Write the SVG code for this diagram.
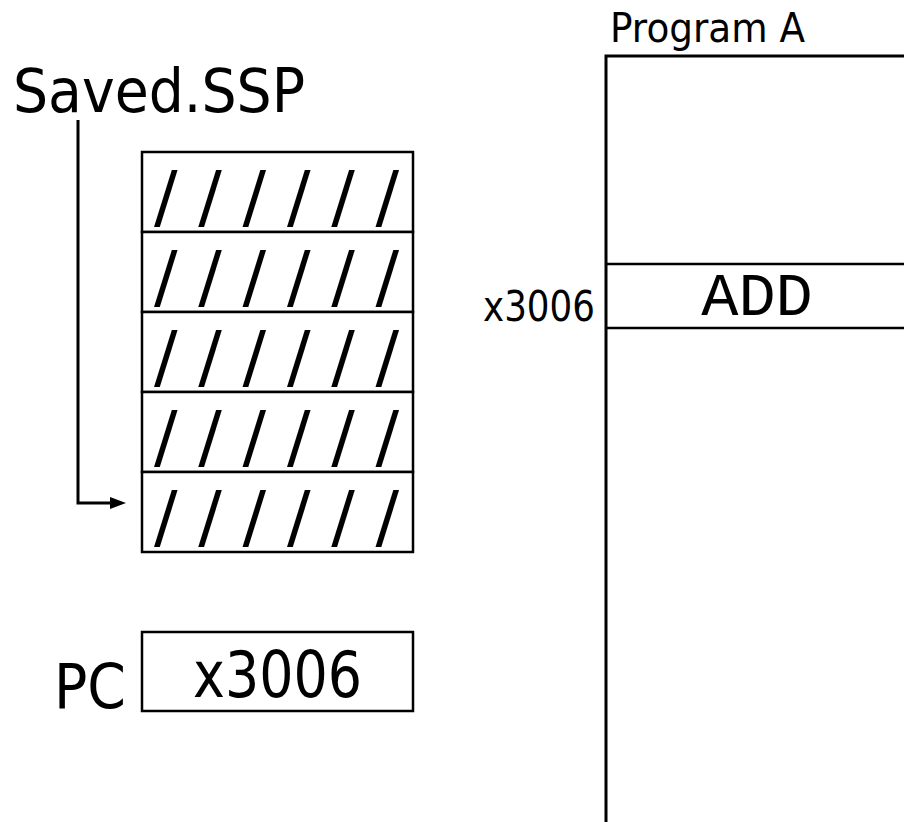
<svg xmlns="http://www.w3.org/2000/svg" width="904" height="822" viewBox="0 0 904 822">
<defs>
<style>
.box{fill:#fff;stroke:#000;stroke-width:2.5}
.sans{font-family:"DejaVu Sans","Liberation Sans",sans-serif;fill:#000}
.mono{font-family:"Liberation Mono","DejaVu Sans Mono",monospace;fill:#000}
.sl{font-family:"DejaVu Sans","Liberation Sans",sans-serif;font-size:70px;fill:#000}
.conn{fill:none;stroke:#000;stroke-width:3}
</style>
<marker id="arr" viewBox="0 0 16 12" markerWidth="16" markerHeight="12" refX="0" refY="6" orient="auto" markerUnits="userSpaceOnUse">
<path d="M0,0 L16,6 L0,12 z" fill="#000"/>
</marker>
</defs>
<rect width="904" height="822" fill="#fff"/>
<g id="saved-ssp-label">
<text class="sans" x="13" y="112" font-size="60" textLength="292" lengthAdjust="spacingAndGlyphs">Saved.SSP</text>
</g>
<g id="stack">
<rect class="box" x="142" y="152" width="271" height="80"/>
<rect class="box" x="142" y="232" width="271" height="80"/>
<rect class="box" x="142" y="312" width="271" height="80"/>
<rect class="box" x="142" y="392" width="271" height="80"/>
<rect class="box" x="142" y="472" width="271" height="80"/>
<text class="sl" x="154 198.3 242.6 286.9 331.2 375.5" y="221">//////</text>
<text class="sl" x="154 198.3 242.6 286.9 331.2 375.5" y="301">//////</text>
<text class="sl" x="154 198.3 242.6 286.9 331.2 375.5" y="381">//////</text>
<text class="sl" x="154 198.3 242.6 286.9 331.2 375.5" y="461">//////</text>
<text class="sl" x="154 198.3 242.6 286.9 331.2 375.5" y="541">//////</text>
</g>
<g id="pc">
<text class="sans" x="54" y="708" font-size="62" textLength="72" lengthAdjust="spacingAndGlyphs">PC</text>
<rect class="box" x="142" y="632" width="271" height="79"/>
<text class="sans" x="193" y="697" font-size="64" textLength="169" lengthAdjust="spacingAndGlyphs">x3006</text>
</g>
<g id="program-a">
<text class="sans" x="610" y="42" font-size="41" textLength="195" lengthAdjust="spacingAndGlyphs">Program A</text>
<path d="M904,56 H606 V824" fill="none" stroke="#000" stroke-width="3"/>
<line x1="606" y1="264" x2="904" y2="264" stroke="#000" stroke-width="2.5"/>
<line x1="606" y1="328" x2="904" y2="328" stroke="#000" stroke-width="2.5"/>
<text class="mono" x="757" y="315" font-size="62" text-anchor="middle">ADD</text>
<text class="sans" x="483" y="321" font-size="42" textLength="112" lengthAdjust="spacingAndGlyphs">x3006</text>
</g>
<g id="connectors">
<path class="conn" d="M78,120 V503 H110" marker-end="url(#arr)"/>
</g>
</svg>
